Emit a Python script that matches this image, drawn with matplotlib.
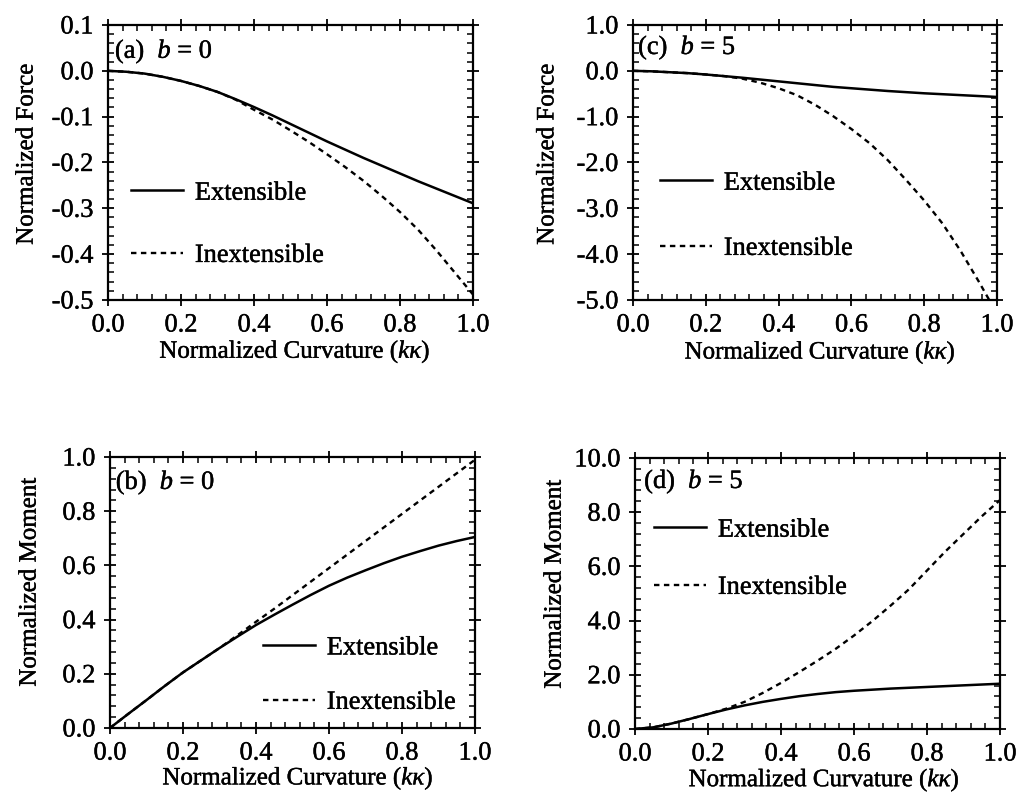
import matplotlib
matplotlib.use("Agg")
import matplotlib.pyplot as plt
import matplotlib.patheffects as pe
from matplotlib.ticker import MultipleLocator, FormatStrFormatter

plt.rcParams['font.family'] = ['Liberation Serif', 'DejaVu Serif']
plt.rcParams['mathtext.fontset'] = 'custom'
plt.rcParams['mathtext.rm'] = 'Liberation Serif'
plt.rcParams['mathtext.it'] = 'Liberation Serif:italic'
plt.rcParams['axes.unicode_minus'] = False

# ---- data ----
curvature = [0.00, 0.05, 0.10, 0.15, 0.20, 0.25, 0.30, 0.35, 0.40, 0.45, 0.50,
             0.55, 0.60, 0.65, 0.70, 0.75, 0.80, 0.85, 0.90, 0.95, 1.00]

force_b0_ext = [0.0, -0.002, -0.006, -0.013, -0.022, -0.033, -0.046, -0.062, -0.079, -0.097, -0.116,
                -0.135, -0.154, -0.172, -0.190, -0.207, -0.224, -0.241, -0.257, -0.273, -0.289]
force_b0_inext = [0.0, -0.002, -0.006, -0.013, -0.022, -0.033, -0.046, -0.063, -0.085, -0.106, -0.130,
                  -0.155, -0.182, -0.210, -0.240, -0.273, -0.308, -0.347, -0.392, -0.440, -0.488]

force_b5_ext = [0.0, -0.01, -0.03, -0.05, -0.08, -0.115, -0.15, -0.19, -0.23, -0.27, -0.31,
                -0.35, -0.38, -0.41, -0.44, -0.465, -0.49, -0.51, -0.53, -0.55, -0.57]
force_b5_inext = [0.0, -0.01, -0.03, -0.05, -0.08, -0.115, -0.17, -0.26, -0.38, -0.53, -0.74,
                  -0.99, -1.27, -1.58, -1.95, -2.38, -2.83, -3.33, -3.93, -4.60, -5.30]

moment_b0_ext = [0.0, 0.052, 0.103, 0.155, 0.205, 0.250, 0.295, 0.338, 0.380, 0.418, 0.455,
                 0.491, 0.525, 0.555, 0.582, 0.608, 0.632, 0.653, 0.673, 0.690, 0.705]
moment_b0_inext = [0.0, 0.052, 0.103, 0.155, 0.205, 0.250, 0.295, 0.343, 0.392, 0.440, 0.490,
                   0.540, 0.590, 0.640, 0.690, 0.740, 0.790, 0.840, 0.890, 0.940, 0.990]

moment_b5_ext = [0.0, 0.06, 0.20, 0.37, 0.55, 0.72, 0.87, 1.00, 1.11, 1.21, 1.29,
                 1.36, 1.41, 1.45, 1.49, 1.52, 1.55, 1.58, 1.61, 1.64, 1.67]
moment_b5_inext = [0.0, 0.06, 0.20, 0.37, 0.55, 0.75, 1.00, 1.33, 1.70, 2.10, 2.52,
                   2.96, 3.45, 3.98, 4.55, 5.15, 5.85, 6.55, 7.20, 7.85, 8.45]

series_labels = ["Extensible", "Inextensible"]
xlabel = "Normalized Curvature ($k\\kappa$)"

panels = [
    # rect, ext, inext, ylim, ymajor, yminor, ylabel, title, title_pos, legend_anchor,
    # labelspacing, ylabel_coords, xlabel_coords
    ([0.1061, 0.6222, 0.3585, 0.3463], force_b0_ext, force_b0_inext, (-0.5, 0.1), 0.1, 0.02,
     "Normalized Force", "(a)  $b$ = 0", (0.019, 0.902), (0.063, 0.276), 1.47,
     (-0.193, 0.531), (0.512, -0.140)),
    ([0.6218, 0.6222, 0.3576, 0.3463], force_b5_ext, force_b5_inext, (-5.0, 1.0), 1.0, 0.2,
     "Normalized Force", "(c)  $b$ = 5", (0.014, 0.916), (0.074, 0.307), 1.58,
     (-0.205, 0.531), (0.514, -0.143)),
    ([0.1080, 0.0831, 0.3586, 0.3413], moment_b0_ext, moment_b0_inext, (0.0, 1.0), 0.2, 0.04,
     "Normalized Moment", "(b)  $b$ = 0", (0.016, 0.904), (0.419, 0.196), 1.17,
     (-0.190, 0.539), (0.515, -0.137)),
    ([0.6238, 0.0819, 0.3586, 0.3413], moment_b5_ext, moment_b5_inext, (0.0, 10.0), 2.0, 0.4,
     "Normalized Moment", "(d)  $b$ = 5", (0.025, 0.911), (0.052, 0.629), 1.28,
     (-0.190, 0.535), (0.518, -0.140)),
]

bold_fx = [pe.withStroke(linewidth=0.3, foreground='black')]

fig = plt.figure(figsize=(10.18, 7.94), dpi=100)

for (rect, ext, inext, ylim, ymaj, ymin, ylab, title, tpos, lanchor, lspace,
     ylc, xlc) in panels:
    ax = fig.add_axes(rect)
    ax.plot(curvature, ext, color='black', lw=1.8, ls='-', label=series_labels[0])
    ax.plot(curvature, inext, color='black', lw=1.7, ls=(0, (2.3, 1.9)), label=series_labels[1])
    ax.set_xlim(0, 1.0)
    ax.set_ylim(*ylim)
    ax.xaxis.set_major_locator(MultipleLocator(0.2))
    ax.xaxis.set_minor_locator(MultipleLocator(0.04))
    ax.yaxis.set_major_locator(MultipleLocator(ymaj))
    ax.yaxis.set_minor_locator(MultipleLocator(ymin))
    ax.xaxis.set_major_formatter(FormatStrFormatter('%.1f'))
    ax.yaxis.set_major_formatter(FormatStrFormatter('%.1f'))
    ax.tick_params(which='major', direction='inout', length=9, width=1.3,
                   top=True, right=True, labelsize=19, pad=6)
    ax.tick_params(which='minor', direction='in', length=4, width=1.1,
                   top=True, right=True)
    ax.tick_params(axis='y', which='major', pad=6)
    for s in ax.spines.values():
        s.set_linewidth(1.6)
    ax.set_xlabel(xlabel, fontsize=18, path_effects=bold_fx)
    ax.set_ylabel(ylab, fontsize=18, path_effects=bold_fx)
    ax.yaxis.set_label_coords(*ylc)
    ax.xaxis.set_label_coords(*xlc)
    for t in ax.get_xticklabels() + ax.get_yticklabels():
        t.set_path_effects(bold_fx)
    ax.text(tpos[0], tpos[1], title, transform=ax.transAxes, fontsize=19,
            ha='left', va='center', path_effects=bold_fx)
    leg = ax.legend(loc='center left', bbox_to_anchor=lanchor, frameon=False, fontsize=19,
                    handlelength=1.97, handletextpad=0.45, labelspacing=lspace,
                    borderaxespad=0, borderpad=0)
    for t in leg.get_texts():
        t.set_path_effects(bold_fx)

fig.savefig("out.png", dpi=100)
